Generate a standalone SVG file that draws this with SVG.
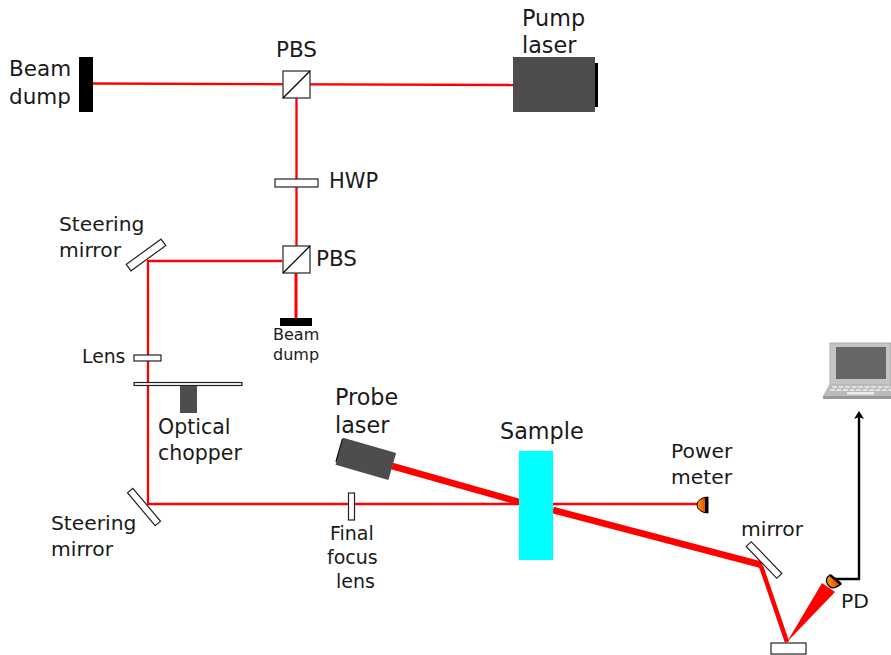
<svg xmlns="http://www.w3.org/2000/svg" width="891" height="655" viewBox="0 0 891 655">
<style>
text{font-family:"DejaVu Sans",sans-serif;fill:#1a1a1a;font-size:20.5px}
.s{font-size:16px}
.l{font-size:18.800px}
.f{font-size:19px}
.m{font-size:20.300px}
.w{font-size:21px}
.x{font-size:21.500px}
.h{font-size:22.300px}
.b{fill:none;stroke:#f00;stroke-width:2.300}
.t{fill:none;stroke:#f00;stroke-linejoin:miter}
.o{fill:#fff;stroke:#222;stroke-width:1.2}
.c{fill:#fff;stroke:#444;stroke-width:1.4}
.k{fill:#000}
.g{fill:#4d4d4d}
</style>
<defs>
<linearGradient id="pd" x1="0" x2="1" y1="0" y2="0"><stop offset="0" stop-color="#f7a400"/><stop offset="1" stop-color="#e62a00"/></linearGradient>
<marker id="ah" markerWidth="8" markerHeight="10" refX="5" refY="5" orient="auto" markerUnits="userSpaceOnUse" viewBox="0 0 8 10"><path d="M0 0L8 5L0 10L2 5Z" fill="#000"/></marker>
</defs>
<g id="connectors">
<path class="b" d="M93 83.500L513 85"/>
<path class="b" d="M296.500 98V246"/>
<path class="b" d="M296 273V320" style="stroke-width:3"/>
<path class="b" d="M282 261H148V504H520"/>
<path class="b" d="M553 504H697"/>
<path class="t" stroke-width="6.500" d="M392 466L519 502"/>
<path class="t" stroke-width="6.500" d="M553 510L762 565"/>
<path class="t" stroke-width="4.500" d="M761 566L787 642"/>
<path d="M787 642L822 583L835 592Z" fill="#f00"/>
<path d="M835 579H859V414" fill="none" stroke="#000" stroke-width="2.400" marker-end="url(#ah)"/>
</g>
<g id="beam-dump-1"><rect class="k" x="79" y="57" width="14" height="55"/><text x="9" y="76" class="x">Beam</text><text x="9" y="104" class="x">dump</text></g>
<g id="pbs-1"><rect class="c" x="283" y="71" width="27" height="27"/><path d="M283 98L310 71" stroke="#000" stroke-width="1.200"/><text x="276" y="57" class="x">PBS</text></g>
<g id="pump-laser"><rect class="k" x="590" y="63" width="8" height="44"/><rect class="g" x="513" y="57" width="82" height="55"/><text x="522" y="26" class="h">Pump</text><text x="522" y="53" class="h">laser</text></g>
<g id="hwp"><rect class="o" x="275" y="179" width="43" height="8"/><text x="329" y="188" class="w">HWP</text></g>
<g id="pbs-2"><rect class="c" x="283" y="246" width="27" height="27"/><path d="M283 273L310 246" stroke="#000" stroke-width="1.200"/><text x="316" y="266" class="x">PBS</text></g>
<g id="beam-dump-2"><rect class="k" x="280" y="318" width="32" height="8"/><text x="273" y="340" class="s">Beam</text><text x="273" y="360" class="s">dump</text></g>
<g id="steering-mirror-1"><rect class="o" x="-21.500" y="-4" width="43" height="8" transform="translate(146 255) rotate(-36)"/><text x="59" y="231" class="m">Steering</text><text x="59" y="257" class="m">mirror</text></g>
<g id="lens"><rect class="o" x="134" y="355" width="27" height="6"/><text x="82" y="363" class="l">Lens</text></g>
<g id="optical-chopper"><rect class="o" x="134" y="382.500" width="108" height="3"/><rect class="g" x="180" y="386" width="17" height="27"/><text x="158" y="434">Optical</text><text x="158" y="460">chopper</text></g>
<g id="steering-mirror-2"><rect class="o" x="-21.500" y="-3.500" width="43" height="7" transform="translate(144 507) rotate(50)"/><text x="51" y="530" class="m">Steering</text><text x="51" y="556" class="m">mirror</text></g>
<g id="final-focus-lens"><rect class="o" x="348.500" y="493" width="6" height="27"/><text x="330" y="540" class="f">Final</text><text x="327" y="564" class="f">focus</text><text x="336" y="588" class="f">lens</text></g>
<g id="probe-laser"><g transform="translate(366 460) rotate(16)"><rect class="k" x="-29" y="-14" width="3" height="24"/><rect class="g" x="-28" y="-15" width="55" height="28"/></g><text x="335" y="405" class="h">Probe</text><text x="335" y="433" class="h">laser</text></g>
<g id="sample"><rect x="519" y="451" width="34" height="109" fill="#0ff"/><text x="500" y="439" class="h">Sample</text></g>
<g id="power-meter"><path d="M708 497A11 8 0 0 0 708 513Z" fill="url(#pd)" stroke="#000" stroke-width="1"/><rect class="k" x="705" y="497" width="3" height="16"/><text x="671" y="458" class="m">Power</text><text x="671" y="484" class="m">meter</text></g>
<g id="mirror-1"><rect class="o" x="-22" y="-3.500" width="44" height="7" transform="translate(764 560) rotate(46)"/><text x="741" y="536" class="m">mirror</text></g>
<g id="mirror-2"><rect class="o" x="771" y="643" width="35" height="11"/></g>
<g id="pd-detector"><path d="M830 575L841 584Q831 592 827 583Q825 578 830 575Z" fill="url(#pd)" stroke="#000" stroke-width="1.300"/><path d="M830 575L841 584" stroke="#000" stroke-width="2.400"/><text x="841" y="608" class="m">PD</text></g>
<g id="laptop">
<path d="M830 343H891V385H830Z" fill="#c4c4c4" stroke="#aaa"/>
<rect x="836" y="347" width="50" height="32" fill="#666"/>
<path d="M829 385H891V396H823Z" fill="#bbb"/>
<path d="M832 387H891M830 390H891" stroke="#eee" stroke-width="1.500" stroke-dasharray="5 1.500"/>
<rect x="847" y="392" width="27" height="2.500" fill="#eee"/>
<rect x="823" y="396" width="68" height="3" fill="#999"/>
</g>
</svg>
